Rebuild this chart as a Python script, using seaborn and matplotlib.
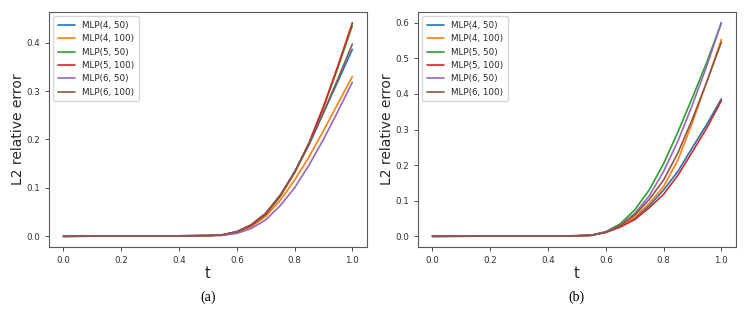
import numpy as np
import pandas as pd
import matplotlib
matplotlib.use("Agg")
import matplotlib.pyplot as plt
import seaborn as sns

t = [0.0, 0.05, 0.1, 0.15, 0.2, 0.25, 0.3, 0.35, 0.4, 0.45, 0.5,
     0.55, 0.6, 0.65, 0.7, 0.75, 0.8, 0.85, 0.9, 0.95, 1.0]
labels = ["MLP(4, 50)", "MLP(4, 100)", "MLP(5, 50)", "MLP(5, 100)", "MLP(6, 50)", "MLP(6, 100)"]
flat = [0.0, 0.0002, 0.0003, 0.0004, 0.0005, 0.0006, 0.0007, 0.0008, 0.001, 0.0012, 0.0015]

# panel (a) values for t >= 0.55
a_4_50 = [0.003, 0.009, 0.023, 0.047, 0.084, 0.132, 0.189, 0.255, 0.320, 0.386]
a_4_100 = [0.002, 0.008, 0.020, 0.041, 0.074, 0.116, 0.164, 0.218, 0.274, 0.330]
a_5_50 = [0.003, 0.009, 0.022, 0.045, 0.082, 0.131, 0.192, 0.266, 0.348, 0.435]
a_5_100 = [0.003, 0.009, 0.022, 0.046, 0.083, 0.132, 0.193, 0.268, 0.352, 0.441]
a_6_50 = [0.002, 0.006, 0.016, 0.034, 0.063, 0.100, 0.147, 0.200, 0.258, 0.318]
a_6_100 = [0.003, 0.010, 0.024, 0.048, 0.085, 0.133, 0.190, 0.256, 0.325, 0.397]

# panel (b) values for t >= 0.55
b_4_50 = [0.003, 0.011, 0.027, 0.051, 0.086, 0.130, 0.183, 0.250, 0.315, 0.386]
b_4_100 = [0.003, 0.011, 0.028, 0.054, 0.092, 0.140, 0.215, 0.320, 0.435, 0.553]
b_5_50 = [0.003, 0.013, 0.035, 0.074, 0.130, 0.204, 0.294, 0.390, 0.490, 0.600]
b_5_100 = [0.003, 0.011, 0.026, 0.047, 0.080, 0.118, 0.172, 0.238, 0.305, 0.381]
b_6_50 = [0.003, 0.012, 0.031, 0.064, 0.113, 0.182, 0.268, 0.370, 0.480, 0.600]
b_6_100 = [0.003, 0.012, 0.030, 0.060, 0.103, 0.158, 0.235, 0.330, 0.435, 0.545]

panel_a = [a_4_50, a_4_100, a_5_50, a_5_100, a_6_50, a_6_100]
panel_b = [b_4_50, b_4_100, b_5_50, b_5_100, b_6_50, b_6_100]


def make_df(series):
    rows = []
    for lab, vals in zip(labels, series):
        full = flat + vals
        for ti, v in zip(t, full):
            rows.append({"t": ti, "err": v, "model": lab})
    return pd.DataFrame(rows)


sns.set_style("ticks")
plt.rcParams["font.family"] = ["DejaVu Sans"]

fig = plt.figure(figsize=(7.47, 3.18), dpi=100)
ax1 = fig.add_axes([0.0656, 0.2233, 0.4254, 0.7387])
ax2 = fig.add_axes([0.5596, 0.2233, 0.4254, 0.7387])

pal = sns.color_palette("tab10", 6)
for ax, series, tag in [(ax1, panel_a, "(a)"), (ax2, panel_b, "(b)")]:
    df = make_df(series)
    sns.lineplot(data=df, x="t", y="err", hue="model", hue_order=labels,
                 palette=pal, linewidth=1.2, ax=ax, legend=True)
    sns.move_legend(ax, "upper left", title=None, fontsize=6.3,
                    frameon=True, borderpad=0.5, labelspacing=0.5,
                    handlelength=2.0, fancybox=True)
    ax.legend_.get_frame().set_edgecolor("0.8")
    ax.set_xlabel("t", fontsize=10.5, color="0.15", labelpad=1)
    ax.set_ylabel("L2 relative error", fontsize=10, color="0.15", labelpad=1)
    ax.tick_params(labelsize=6.3, colors="0.2", length=3, width=0.6)
    ax.set_xticks([0.0, 0.2, 0.4, 0.6, 0.8, 1.0])
    for s in ax.spines.values():
        s.set_visible(True)
        s.set_color("0.35")
        s.set_linewidth(0.8)
    ax.margins(x=0.05, y=0.05)
    ax.text(0.5, -0.215, tag, transform=ax.transAxes, ha="center", va="center",
            fontsize=10, family="Liberation Serif", color="black")

ax1.set_yticks([0.0, 0.1, 0.2, 0.3, 0.4])
ax2.set_yticks([0.0, 0.1, 0.2, 0.3, 0.4, 0.5, 0.6])

fig.savefig("out.png", dpi=100)
